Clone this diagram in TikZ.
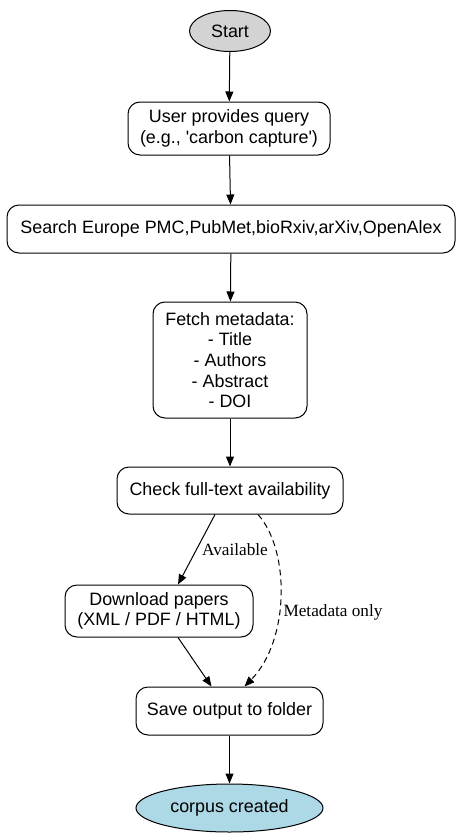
\documentclass[tikz,border=0pt]{standalone}
\usepackage{fontspec}
\setmainfont{Liberation Sans}
\newfontfamily\lblfont{Liberation Serif}
\usetikzlibrary{arrows.meta,shapes.geometric}
\definecolor{startgray}{HTML}{D3D3D3}
\definecolor{endblue}{HTML}{ADD8E6}
\begin{document}
\begin{tikzpicture}[x=1pt,y=-1pt,
  every node/.style={font=\fontsize{17.9}{20.7}\selectfont, inner sep=0pt},
  box/.style={draw, rounded corners=12pt, line width=1pt, align=center},
  oval/.style={draw, ellipse, line width=1pt},
  arr/.style={draw, line width=1pt, -{Triangle[length=10pt,width=8pt]}},
  lbl/.style={font=\lblfont\fontsize{17.2}{20}\selectfont}
]
\useasboundingbox (0,0) rectangle (459,838);
\node[oval, fill=startgray, minimum width=81pt, minimum height=41pt] (start) at (230,31) {Start};
\node[box, minimum width=202pt, minimum height=53pt] (user) at (229,128.5) {User provides query\\(e.g., \textquotesingle carbon capture\textquotesingle)};
\node[box, minimum width=448pt, minimum height=48pt] (search) at (231,229) {Search Europe PMC,PubMet,bioRxiv,arXiv,OpenAlex};
\node[box, minimum width=154pt, minimum height=116pt] (fetch) at (230,360) {Fetch metadata:\\- Title\\- Authors\\- Abstract\\- DOI};
\node[box, minimum width=226pt, minimum height=47pt] (check) at (230,490.5) {Check full-text availability};
\node[box, minimum width=188pt, minimum height=52pt] (download) at (159,611) {Download papers\\(XML / PDF / HTML)};
\node[box, minimum width=187pt, minimum height=48pt] (save) at (229.5,711) {Save output to folder};
\node[oval, fill=endblue, minimum width=187pt, minimum height=48pt] (corpus) at (229.5,808) {corpus created};

\draw[arr] (start) -- (user);
\draw[arr] (user) -- (search);
\draw[arr] (search) -- (fetch);
\draw[arr] (fetch) -- (check);
\draw[arr] ([xshift=-15pt]check.south) -- ([xshift=19pt]download.north);
\draw[arr] ([xshift=19pt]download.south) -- ([xshift=-18pt]save.north);
\draw[arr, dashed, dash pattern=on 6pt off 4pt] ([xshift=28pt]check.south) .. controls (290,550) and (290,640) .. ([xshift=15pt]save.north);
\draw[arr] (save) -- (corpus);

\node[lbl] (lavail) at (235,550) {Available};
\node[lbl] (lmeta) at (333,612) {Metadata only};
\end{tikzpicture}
\end{document}
